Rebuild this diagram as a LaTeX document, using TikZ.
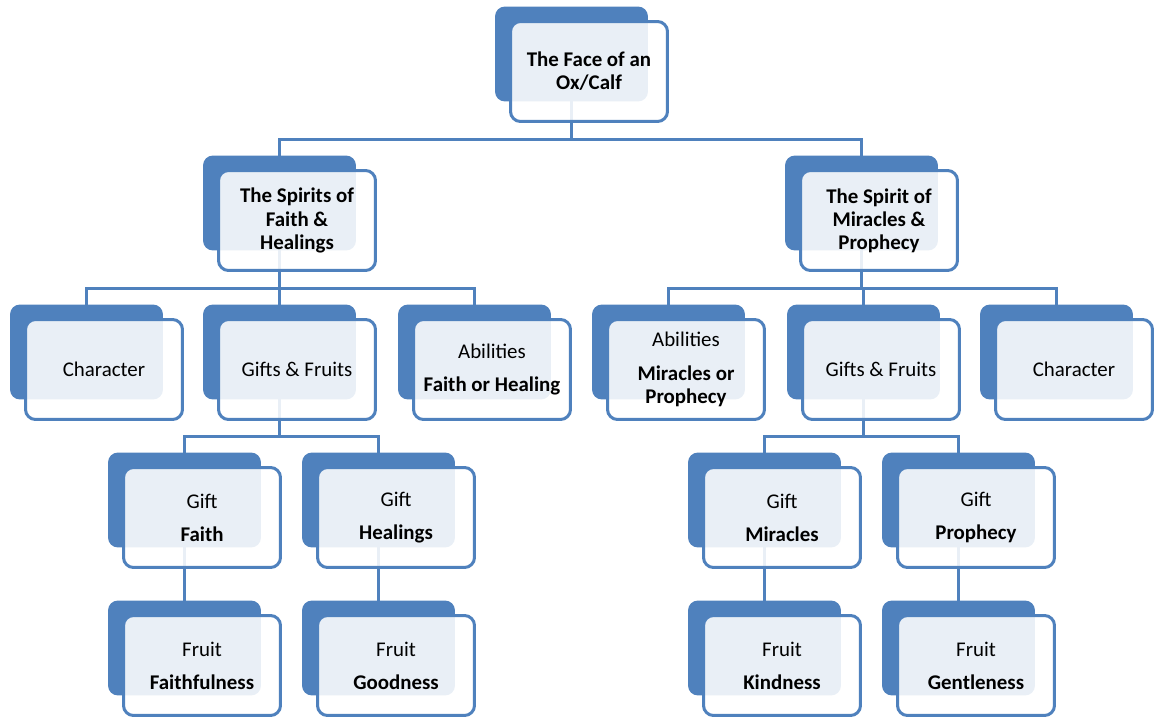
\documentclass[tikz,border=0pt]{standalone}
\usepackage{fontspec}
\setmainfont{Carlito}
\usetikzlibrary{calc,backgrounds}
\definecolor{boxblue}{HTML}{4F81BD}
\tikzset{
	shadowbox/.style={rectangle, rounded corners=.2cm, fill=boxblue, minimum width=3.06cm, minimum height=1.9cm, inner sep=0pt, outer sep=0pt},
	facebox/.style={rectangle, rounded corners=.2cm, draw=boxblue, line width=.06cm, fill=white, fill opacity=.88, text opacity=1, minimum width=3.14cm, minimum height=2cm, inner sep=0pt, align=center, font=\fontsize{11.9}{13.2}\selectfont},
	link/.style={draw=boxblue, line width=.06cm}
}
\begin{document}
\begin{tikzpicture}[x=.02cm, y=-.02cm]
			\useasboundingbox (0,0) rectangle (1154,717);
			\foreach \x/\y/\name/\txt in {
					571.5/54/top/{\bfseries The Face of an\\\bfseries Ox/Calf},
					279.5/203/spl/{\bfseries The Spirits of\\\bfseries Faith \&\\\bfseries Healings},
					861.5/203/spr/{\bfseries The Spirit of\\\bfseries Miracles \&\\\bfseries Prophecy},
					86.5/352/chl/{Character},
					279.5/352/gfl/{Gifts \& Fruits},
					474.5/352/abl/{Abilities\\[.2cm]\bfseries Faith or Healing},
					668.5/352/abr/{Abilities\\[.2cm]\bfseries Miracles or\\\bfseries Prophecy},
					863.5/352/gfr/{Gifts \& Fruits},
					1056.5/352/chr/{Character},
					184.5/500/gfa/{Gift\\[.2cm]\bfseries Faith},
					378.5/500/ghe/{Gift\\[.2cm]\bfseries Healings},
					764.5/500/gmi/{Gift\\[.2cm]\bfseries Miracles},
					958.5/500/gpr/{Gift\\[.2cm]\bfseries Prophecy},
					184.5/648/ffa/{Fruit\\[.2cm]\bfseries Faithfulness},
					378.5/648/fgo/{Fruit\\[.2cm]\bfseries Goodness},
					764.5/648/fki/{Fruit\\[.2cm]\bfseries Kindness},
					958.5/648/fge/{Fruit\\[.2cm]\bfseries Gentleness}}
				{
					\node[shadowbox] (s\name) at (\x,\y) {};
					\node[facebox] (\name) at ($(s\name)+(17.5,17.5)$) {\txt};
				}
			\begin{scope}[on background layer]
				\foreach \p/\c in {top/spl, top/spr, spl/chl, spl/gfl, spl/abl, spr/abr, spr/gfr, spr/chr, gfl/gfa, gfl/ghe, gfr/gmi, gfr/gpr}
					{
						\coordinate (bus) at ($(\p.south)!.5!(s\c.north)$);
						\draw[link] (s\p.center) -- (s\p.center |- bus) -| (s\c.center);
					}
				\foreach \p/\c in {gfa/ffa, ghe/fgo, gmi/fki, gpr/fge}
					{
						\draw[link] (s\p.center) -- (s\c.center);
					}
			\end{scope}
		\end{tikzpicture}
\end{document}
